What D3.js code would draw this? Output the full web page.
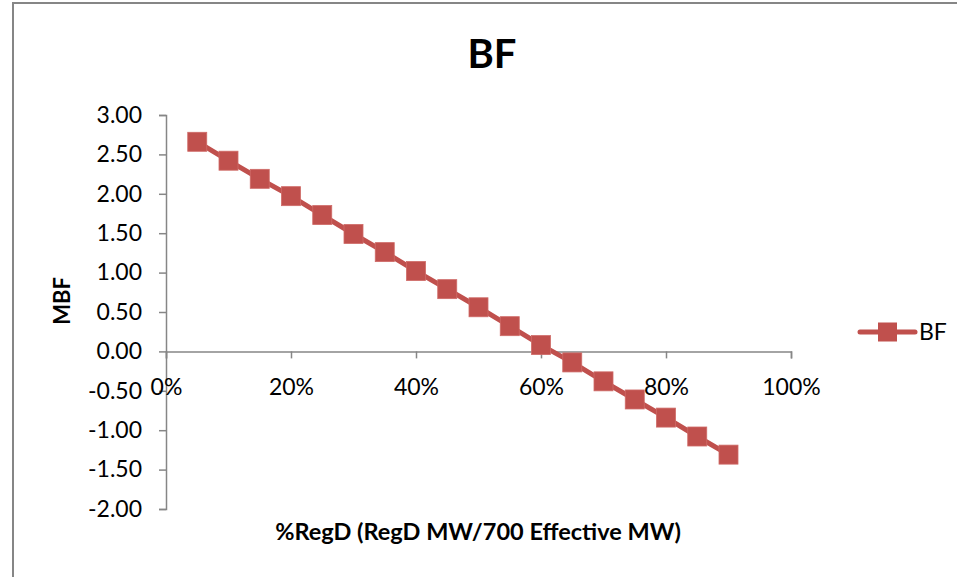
<!DOCTYPE html>
<html>
<head>
<meta charset="utf-8">
<script src="https://cdn.jsdelivr.net/npm/d3@7"></script>
<style>
  body { margin: 0; background: #fff; }
  text { font-family: Lato, "Open Sans", sans-serif; }
</style>
</head>
<body>
<div id="chart"></div>
<script>
// BF vs %RegD
const pctRegD = [0.05, 0.10, 0.15, 0.20, 0.25, 0.30, 0.35, 0.40, 0.45,
                 0.50, 0.55, 0.60, 0.65, 0.70, 0.75, 0.80, 0.85, 0.90];
const bfValues = [2.66, 2.42, 2.19, 1.97, 1.73, 1.49, 1.26, 1.02, 0.79,
                  0.56, 0.32, 0.08, -0.14, -0.38, -0.61, -0.84, -1.08, -1.31];
const xTicks = [0, 0.2, 0.4, 0.6, 0.8, 1.0];
const yTicks = [3, 2.5, 2, 1.5, 1, 0.5, 0, -0.5, -1, -1.5, -2];

const width = 957,
      height = 577;
const red = "#c0504d",
      axisGray = "#868686";

const svg = d3.select("#chart")
.append("svg")
  .attr("width", width)
  .attr("height", height);

// outer frame (runs off the right/bottom edge like the screenshot)
svg.append("rect")
  .attr("x", 13)
  .attr("y", 3)
  .attr("width", width + 20)
  .attr("height", height + 20)
  .attr("fill", "none")
  .attr("stroke", axisGray)
  .attr("stroke-width", 2);

const x = d3.scaleLinear().domain([0, 1]).range([166, 791]);
const y = d3.scaleLinear().domain([-2, 3]).range([509, 115]);

const fmtY = d => d3.format(".2f")(d).replace("−", "-");

// y axis
const yAxis = svg.append("g")
  .attr("transform", `translate(${x(0)},0)`)
  .call(d3.axisLeft(y).tickValues(yTicks).tickFormat(fmtY).tickSize(7).tickPadding(17));
yAxis.select(".domain").attr("stroke", axisGray).attr("stroke-width", 1.5);
yAxis.selectAll(".tick line").attr("stroke", axisGray).attr("stroke-width", 1.5);
yAxis.selectAll("text")
  .attr("font-size", 23)
  .attr("fill", "#000")
  .style("font-family", "Lato, sans-serif");

// x axis on the zero line
const xAxis = svg.append("g")
  .attr("transform", `translate(0,${y(0)})`)
  .call(d3.axisBottom(x).tickValues(xTicks).tickFormat(d3.format(".0%")).tickSize(7).tickPadding(20));
xAxis.select(".domain").attr("stroke", axisGray).attr("stroke-width", 1.5);
xAxis.selectAll(".tick line").attr("stroke", axisGray).attr("stroke-width", 1.5);
xAxis.selectAll("text")
  .attr("font-size", 23)
  .attr("fill", "#000")
  .style("font-family", "Lato, sans-serif");

// series line
const pts = pctRegD.map((d, i) => [d, bfValues[i]]);
svg.append("path")
  .datum(pts)
  .attr("fill", "none")
  .attr("stroke", red)
  .attr("stroke-width", 5)
  .attr("stroke-linejoin", "round")
  .attr("d", d3.line().x(d => x(d[0])).y(d => y(d[1])));

const size = 19;
svg.selectAll("rect.marker")
.data(pts)
.enter()
.append("rect")
  .attr("class", "marker")
  .attr("x", d => x(d[0]) - size / 2)
  .attr("y", d => y(d[1]) - size / 2)
  .attr("width", size)
  .attr("height", size)
  .attr("fill", red)
  .attr("stroke", "#cf6a67")
  .attr("stroke-width", 0.8);

// titles
svg.append("text")
  .attr("x", 492)
  .attr("y", 68)
  .attr("text-anchor", "middle")
  .attr("font-size", 40)
  .attr("font-weight", "bold")
  .text("BF");

svg.append("text")
  .attr("transform", "translate(70,301) rotate(-90)")
  .attr("text-anchor", "middle")
  .attr("font-size", 22)
  .attr("font-weight", "bold")
  .text("MBF");

svg.append("text")
  .attr("x", 478)
  .attr("y", 540)
  .attr("text-anchor", "middle")
  .attr("font-size", 23.5)
  .attr("font-weight", "bold")
  .text("%RegD (RegD MW/700 Effective MW)");

// legend
const legend = svg.append("g").attr("transform", "translate(860,332)");
legend.append("line")
  .attr("x1", 0).attr("x2", 55)
  .attr("y1", 0).attr("y2", 0)
  .attr("stroke", red)
  .attr("stroke-width", 5)
  .attr("stroke-linecap", "round");
legend.append("rect")
  .attr("x", 27.5 - size / 2)
  .attr("y", -size / 2)
  .attr("width", size)
  .attr("height", size)
  .attr("fill", red);
legend.append("text")
  .attr("x", 59)
  .attr("y", 8)
  .attr("font-size", 23)
  .text("BF");
</script>
</body>
</html>
